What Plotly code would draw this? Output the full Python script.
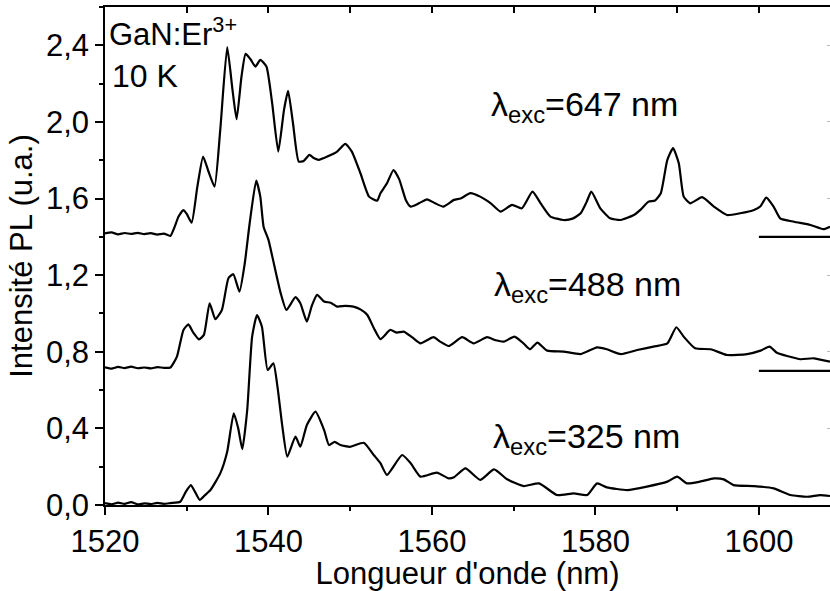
import plotly.graph_objects as go

# ---- data (wavelength nm, PL intensity a.u., offsets included) ----
s647 = [(1520.0,1.418),(1520.8,1.423),(1521.6,1.413),(1522.4,1.420),(1523.2,1.415),(1524.0,1.421),
        (1524.8,1.414),(1525.6,1.419),(1526.4,1.412),(1527.2,1.417),(1528.0,1.405),(1528.5,1.45),
        (1529.0,1.506),(1529.6,1.540),(1530.0,1.52),(1530.6,1.474),(1531.3,1.662),(1532.0,1.819),
        (1532.6,1.749),(1533.4,1.662),(1534.1,1.958),(1534.95,2.390),(1535.6,2.167),(1536.1,2.014),
        (1536.7,2.237),(1537.2,2.355),(1537.8,2.327),(1538.4,2.289),(1539.0,2.324),(1539.75,2.289),
        (1540.45,2.098),(1541.2,1.845),(1541.9,2.063),(1542.4,2.162),(1543.0,1.993),(1543.7,1.793),
        (1544.3,1.796),(1545.0,1.828),(1545.6,1.81),(1546.15,1.802),(1547.2,1.819),(1548.4,1.845),
        (1549.4,1.885),(1550.2,1.845),(1551.25,1.732),(1552.3,1.610),(1553.3,1.589),(1553.7,1.628),
        (1554.5,1.68),(1555.3,1.749),(1556.0,1.70),(1556.8,1.593),(1557.4,1.558),(1558.4,1.575),
        (1559.4,1.596),(1560.4,1.575),(1561.4,1.558),(1562.7,1.593),(1563.5,1.60),(1564.7,1.628),
        (1565.9,1.610),(1567.2,1.575),(1568.4,1.532),(1569.8,1.567),(1571.0,1.549),(1572.3,1.636),
        (1573.3,1.575),(1574.5,1.506),(1576.1,1.488),(1577.2,1.495),(1578.2,1.523),(1578.9,1.58),
        (1579.5,1.636),(1580.6,1.549),(1581.8,1.497),(1583.1,1.488),(1584.7,1.514),(1585.6,1.545),
        (1586.5,1.584),(1587.3,1.59),(1588.0,1.628),(1588.8,1.802),(1589.5,1.863),(1590.2,1.784),
        (1590.8,1.610),(1591.6,1.575),(1593.05,1.607),(1594.5,1.558),(1596.1,1.514),(1597.7,1.523),
        (1599.4,1.540),(1600.2,1.56),(1600.9,1.605),(1601.8,1.558),(1602.6,1.497),(1604.3,1.479),
        (1606.3,1.462),(1607.9,1.440),(1608.7,1.453)]

s488 = [(1520.0,0.719),(1520.8,0.712),(1521.6,0.721),(1522.4,0.715),(1523.2,0.722),(1524.0,0.714),
        (1524.8,0.718),(1525.6,0.713),(1526.4,0.720),(1527.2,0.716),(1528.0,0.718),(1528.8,0.775),
        (1529.6,0.914),(1530.2,0.943),(1530.8,0.90),(1531.5,0.865),(1532.1,0.888),(1532.8,1.053),
        (1533.5,0.970),(1534.3,1.018),(1535.1,1.184),(1535.7,1.205),(1536.45,1.114),(1537.1,1.262),
        (1537.7,1.471),(1538.5,1.694),(1539.0,1.610),(1539.4,1.453),(1540.0,1.384),(1540.65,1.262),
        (1541.5,1.105),(1542.2,1.018),(1543.3,1.085),(1543.9,1.053),(1544.7,0.957),(1545.3,1.04),
        (1545.95,1.097),(1546.8,1.062),(1547.6,1.056),(1548.4,1.036),(1549.4,1.04),(1550.4,1.036),
        (1551.3,1.02),(1552.1,0.992),(1552.9,0.923),(1553.7,0.866),(1554.9,0.914),(1555.7,0.900),
        (1556.55,0.905),(1557.6,0.875),(1558.6,0.844),(1559.4,0.86),(1560.2,0.876),(1561.0,0.853),
        (1562.05,0.830),(1563.7,0.876),(1565.1,0.844),(1566.75,0.876),(1567.8,0.86),(1568.8,0.853),
        (1570.1,0.879),(1571.2,0.844),(1572.0,0.813),(1572.9,0.848),(1574.1,0.806),(1576.1,0.801),
        (1578.2,0.788),(1580.2,0.823),(1581.4,0.813),(1583.1,0.788),(1585.1,0.809),(1587.1,0.827),
        (1588.8,0.844),(1589.9,0.928),(1590.8,0.879),(1592.2,0.818),(1594.1,0.813),(1596.1,0.783),
        (1598.55,0.788),(1600.2,0.806),(1601.3,0.827),(1602.2,0.795),(1603.45,0.778),(1605.1,0.761),
        (1606.7,0.766),(1608.7,0.748)]

s325 = [(1520.0,0.010),(1520.8,0.004),(1521.6,0.012),(1522.4,0.006),(1523.2,0.015),(1524.0,0.003),
        (1524.8,0.009),(1525.6,0.005),(1526.4,0.011),(1527.2,0.006),(1528.0,0.010),(1529.2,0.017),
        (1529.9,0.07),(1530.5,0.104),(1531.0,0.07),(1531.6,0.026),(1532.2,0.05),(1532.9,0.078),
        (1534.1,0.165),(1534.95,0.278),(1535.75,0.479),(1536.3,0.40),(1536.8,0.291),(1537.4,0.496),
        (1538.0,0.879),(1538.6,0.992),(1539.2,0.931),(1539.9,0.705),(1540.6,0.740),(1541.1,0.618),
        (1541.7,0.409),(1542.3,0.252),(1543.3,0.357),(1543.9,0.304),(1544.7,0.418),(1545.75,0.487),
        (1546.8,0.392),(1547.4,0.313),(1548.1,0.33),(1548.8,0.313),(1550.0,0.304),(1551.65,0.325),
        (1552.9,0.260),(1553.7,0.218),(1554.5,0.157),(1556.35,0.261),(1557.4,0.218),(1558.6,0.148),
        (1560.6,0.169),(1562.05,0.139),(1562.7,0.145),(1564.1,0.191),(1565.9,0.131),(1567.6,0.186),
        (1569.2,0.134),(1571.2,0.099),(1573.1,0.113),(1575.3,0.052),(1577.35,0.061),(1579.0,0.052),
        (1580.2,0.113),(1581.4,0.092),(1583.9,0.078),(1586.3,0.096),(1588.8,0.122),(1590.0,0.148),
        (1591.2,0.113),(1592.8,0.122),(1594.5,0.139),(1595.7,0.134),(1596.9,0.104),(1599.4,0.099),
        (1601.8,0.087),(1603.85,0.052),(1605.9,0.043),(1607.5,0.052),(1608.7,0.047)]

series_names = ["647 nm", "488 nm", "325 nm"]
baseline_levels = [1.4, 0.7]
baseline_x = [1600, 1610]

x_tickvals = [1520, 1540, 1560, 1580, 1600]
x_ticktext = ["1520", "1540", "1560", "1580", "1600"]
y_tickvals = [0.0, 0.4, 0.8, 1.2, 1.6, 2.0, 2.4]
y_ticktext = ["0,0", "0,4", "0,8", "1,2", "1,6", "2,0", "2,4"]

sample_label = ["GaN:Er<sup>3+</sup>", "10 K"]
exc_labels = ["λ<sub>exc</sub>=647 nm", "λ<sub>exc</sub>=488 nm", "λ<sub>exc</sub>=325 nm"]

FONT = "Liberation Sans, Arial, sans-serif"
XR = [1520, 1608.7]
YR = [0, 2.6]

fig = go.Figure()
for name, s in zip(series_names, [s647, s488, s325]):
    fig.add_trace(go.Scatter(x=[p[0] for p in s], y=[p[1] for p in s], mode="lines",
                             line=dict(color="black", width=2.2, shape="spline", smoothing=0.5),
                             name=name, showlegend=False))
for lvl in baseline_levels:
    fig.add_trace(go.Scatter(x=baseline_x, y=[lvl, lvl], mode="lines",
                             line=dict(color="black", width=2.2), showlegend=False))

annos = [
    dict(x=1520.3, y=2.47, text=sample_label[0], font=dict(size=31)),
    dict(x=1520.6, y=2.24, text=sample_label[1], font=dict(size=32)),
    dict(x=1567.0, y=2.078, text=exc_labels[0], font=dict(size=34)),
    dict(x=1567.3, y=1.14, text=exc_labels[1], font=dict(size=34)),
    dict(x=1567.2, y=0.346, text=exc_labels[2], font=dict(size=34)),
]
for a in annos:
    a.update(xref="x", yref="y", showarrow=False, xanchor="left", yanchor="middle")

fig.update_layout(
    width=830, height=591,
    margin=dict(l=105, r=0, t=7, b=86, autoexpand=False),
    paper_bgcolor="white", plot_bgcolor="white",
    font=dict(family=FONT, size=31, color="black"),
    annotations=annos,
    xaxis=dict(range=XR, tickvals=x_tickvals, ticktext=x_ticktext, ticks="outside", ticklen=8,
               tickwidth=1.5, tickcolor="black", showline=True, linecolor="black", linewidth=1.5,
               showgrid=False, zeroline=False, automargin=False, tickfont=dict(size=31),
               minor=dict(dtick=10, tick0=1520, ticks="outside", ticklen=4, tickwidth=1.5, tickcolor="black"),
               title=dict(text="Longueur d'onde (nm)", font=dict(size=31), standoff=2)),
    xaxis2=dict(range=XR, overlaying="x", side="top", dtick=10, tick0=1520, ticks="inside",
                ticklen=6, tickwidth=1.5, tickcolor="black", showticklabels=False, showline=True,
                linecolor="black", linewidth=1.5, showgrid=False, zeroline=False, automargin=False),
    yaxis=dict(range=YR, tickvals=y_tickvals, ticktext=y_ticktext, ticks="outside", ticklen=8,
               tickwidth=1.5, tickcolor="black", showline=True, linecolor="black", linewidth=1.5,
               showgrid=False, zeroline=False, automargin=False, tickfont=dict(size=31),
               minor=dict(dtick=0.2, tick0=0, ticks="outside", ticklen=4, tickwidth=1.5, tickcolor="black"),
               title=dict(text="Intensité PL (u.a.)", font=dict(size=31), standoff=4)),
    yaxis2=dict(range=YR, overlaying="y", side="right", dtick=0.4, tick0=0, ticks="inside",
                ticklen=3, tickwidth=1, tickcolor="#bbbbbb", showticklabels=False, showline=False,
                showgrid=False, zeroline=False, automargin=False),
)
# invisible trace so the mirror axes are drawn
fig.add_trace(go.Scatter(x=[XR[0]], y=[YR[0]], xaxis="x2", yaxis="y2", mode="markers",
                         marker=dict(opacity=0), showlegend=False, hoverinfo="skip"))

fig.write_html("out.html", config={"displayModeBar": False},
               post_script="document.body.style.margin='0';document.body.style.overflow='hidden';")
